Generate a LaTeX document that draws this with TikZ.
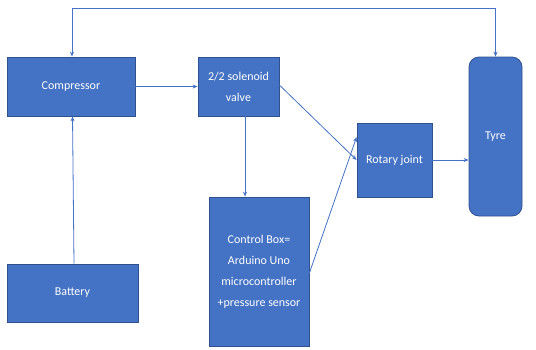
\documentclass[tikz,border=0pt]{standalone}
\usepackage{fontspec}
\setmainfont{Carlito}
\usetikzlibrary{
    arrows.meta,
    positioning
}
\definecolor{boxblue}{HTML}{4472C4}
\definecolor{boxedge}{HTML}{2F528F}

\begin{document}
\begin{tikzpicture}[
    x=1pt, y=-1pt,
    every node/.style={
        font=\fontsize{12pt}{21pt}\selectfont
    },
    block/.style={
        rectangle,
        draw=boxedge,
        line width=0.8pt,
        fill=boxblue,
        text=white,
        align=center,
        inner sep=0pt
    },
    flowarrow/.style={
        -{Stealth[length=5pt,width=4pt]},
        line width=0.8pt,
        draw=boxblue
    }
]

\useasboundingbox (0,0) rectangle (536,349);

% ==========================================================
% Blocks
% ==========================================================
\node[
    block,
    minimum width=128pt,
    minimum height=59pt
] (compressor) at (71,86.5) {Compressor};

\node[
    block,
    minimum width=81pt,
    minimum height=59pt
] (valve) at (238.5,86.5) {2/2 solenoid\\valve};

\node[
    block,
    minimum width=75pt,
    minimum height=74pt
] (joint) at (394.5,160) {Rotary joint};

\node[
    block,
    rounded corners=10pt,
    minimum width=53pt,
    minimum height=159pt
] (tyre) at (495.5,136.5) {Tyre};

\node[
    block,
    minimum width=100pt,
    minimum height=149pt
] (control) at (259,271.5) {Control Box=\\Arduino Uno\\microcontroller\\+pressure sensor};

\node[
    block,
    minimum width=131pt,
    minimum height=58pt
] (battery) at (72.5,293) {Battery};

% ==========================================================
% Connectors
% ==========================================================
\draw[flowarrow, {Stealth[length=5pt,width=4pt]}-{Stealth[length=5pt,width=4pt]}]
    ([xshift=1pt]compressor.north)
    -- ++(0,-48)
    -| (tyre.north);

\draw[flowarrow]
    ([xshift=1.5pt]battery.north)
    --
    ([xshift=1.5pt]compressor.south);

\draw[flowarrow]
    (compressor.east)
    --
    (valve.west);

\draw[flowarrow]
    ([xshift=6.5pt]valve.south)
    --
    ([xshift=-14pt]control.north);

\draw[flowarrow]
    ([yshift=1.5pt]valve.east)
    --
    (joint.west);

\draw[flowarrow]
    ([yshift=-1.5pt]control.east)
    --
    ([yshift=23pt]joint.west);

\draw[flowarrow]
    (joint.east)
    --
    (tyre.west |- joint.east);

\end{tikzpicture}
\end{document}
